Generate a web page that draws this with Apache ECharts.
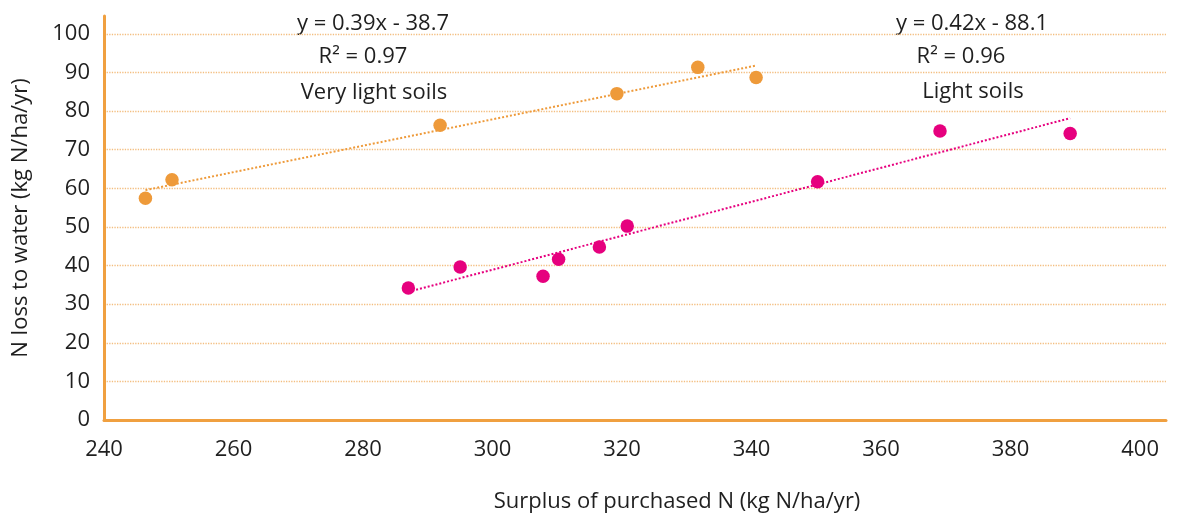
<!DOCTYPE html>
<html>
<head>
<meta charset="utf-8">
<script src="https://cdn.jsdelivr.net/npm/echarts@6/dist/echarts.min.js"></script>
<style>
html,body{margin:0;padding:0;background:#fff;}
#chart{width:1181px;height:518px;}
</style>
</head>
<body>
<div id="chart"></div>
<script>
// ---- data ----
var veryLightX = [246.4, 250.5, 291.9, 319.2, 331.7, 340.7];
var veryLightY = [57.4, 62.2, 76.3, 84.5, 91.3, 88.7];
var lightX = [287.0, 295.0, 307.8, 310.2, 316.5, 320.8, 350.2, 369.1, 389.2];
var lightY = [34.2, 39.6, 37.2, 41.6, 44.8, 50.2, 61.7, 74.8, 74.2];
var xTicks = [240, 260, 280, 300, 320, 340, 360, 380, 400];
var yTicks = [0, 10, 20, 30, 40, 50, 60, 70, 80, 90, 100];
var veryLightLabels = ['y = 0.39x - 38.7', 'R\u00B2 = 0.97', 'Very light soils'];
var lightLabels = ['y = 0.42x - 88.1', 'R\u00B2 = 0.96', 'Light soils'];
var xTitle = 'Surplus of purchased N (kg N/ha/yr)';
var yTitle = 'N loss to water (kg N/ha/yr)';

function pairs(xs, ys) { return xs.map(function (x, i) { return [x, ys[i]]; }); }
function trend(xs, ys) {
  var n = xs.length, mx = 0, my = 0;
  for (var i = 0; i < n; i++) { mx += xs[i]; my += ys[i]; }
  mx /= n; my /= n;
  var sxy = 0, sxx = 0;
  for (var j = 0; j < n; j++) { sxy += (xs[j] - mx) * (ys[j] - my); sxx += (xs[j] - mx) * (xs[j] - mx); }
  var b = sxy / sxx, a = my - b * mx;
  var x0 = Math.min.apply(null, xs), x1 = Math.max.apply(null, xs);
  return [[x0, a + b * x0], [x1, a + b * x1]];
}

var ORANGE = '#EE9A3A';
var PINK = '#E6007E';
var AXIS = '#F0A040';
var GRID = '#F3BE80';
var TXT = '#1f1f1f';
var FONT = 'Open Sans';

function textEl(str, x, y) {
  return { type: 'text', x: x, y: y,
    style: { text: str, fill: TXT, font: '22px "' + FONT + '"', textAlign: 'center', textVerticalAlign: 'middle' } };
}

var chart = echarts.init(document.getElementById('chart'), null, { renderer: 'canvas' });
chart.setOption({
  animation: false,
  backgroundColor: '#fff',
  textStyle: { fontFamily: FONT },
  grid: { left: 104, right: 15, top: 16, bottom: 95, containLabel: false },
  xAxis: {
    type: 'value', min: xTicks[0], max: 404, interval: 20,
    axisLine: { show: true, lineStyle: { color: AXIS, width: 3 } },
    axisTick: { show: false },
    splitLine: { show: false },
    axisLabel: {
      color: TXT, fontSize: 22, margin: 19, showMaxLabel: false,
      formatter: function (v) { return xTicks.indexOf(v) >= 0 ? String(v) : ''; }
    },
    name: xTitle, nameLocation: 'middle', nameGap: 71,
    nameTextStyle: { color: TXT, fontSize: 22, padding: [0, 0, 0, 84] }
  },
  yAxis: {
    type: 'value', min: yTicks[0], max: 104.6, interval: 10,
    axisLine: { show: true, onZero: false, lineStyle: { color: AXIS, width: 3 } },
    axisTick: { show: false },
    splitLine: { show: true, showMaxLine: false, showMinLine: false, lineStyle: { color: GRID, type: 'dotted', width: 1.3 } },
    axisLabel: {
      color: TXT, fontSize: 22, margin: 14, showMaxLabel: false,
      formatter: function (v) { return yTicks.indexOf(v) >= 0 ? String(v) : ''; }
    },
    name: yTitle, nameLocation: 'middle', nameGap: 72,
    nameTextStyle: { color: TXT, fontSize: 22 }
  },
  series: [
    { name: 'Very light trend', type: 'line', data: trend(veryLightX, veryLightY), symbol: 'none', silent: true,
      lineStyle: { color: ORANGE, width: 2, type: [2, 2] }, z: 1 },
    { name: 'Light trend', type: 'line', data: trend(lightX, lightY), symbol: 'none', silent: true,
      lineStyle: { color: PINK, width: 2, type: [2, 2] }, z: 1 },
    { name: 'Very light soils', type: 'scatter', data: pairs(veryLightX, veryLightY), symbolSize: 13.5,
      itemStyle: { color: ORANGE, opacity: 1 }, z: 3 },
    { name: 'Light soils', type: 'scatter', data: pairs(lightX, lightY), symbolSize: 13.5,
      itemStyle: { color: PINK, opacity: 1 }, z: 3 }
  ],
  graphic: [
    textEl(veryLightLabels[0], 373, 24),
    textEl(veryLightLabels[1], 363, 57),
    textEl(veryLightLabels[2], 374, 93),
    textEl(lightLabels[0], 972, 24),
    textEl(lightLabels[1], 961, 57),
    textEl(lightLabels[2], 973, 92)
  ]
});
</script>
</body>
</html>
